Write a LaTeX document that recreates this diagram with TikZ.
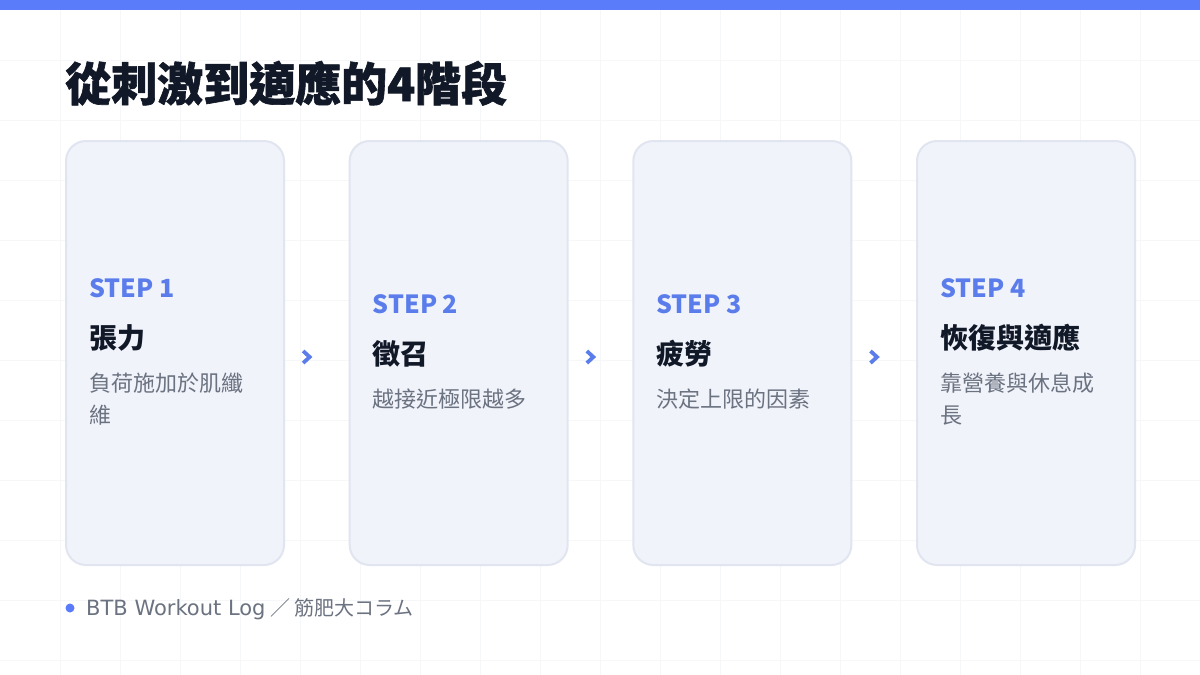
\documentclass[tikz,border=0pt]{standalone}
\usepackage{fontspec}
\setmainfont{Noto Sans CJK TC}
\newfontfamily\heavyfont{Noto Sans CJK TC}[BoldFeatures={FakeBold=1.3}]
\newfontfamily\latinfont{DejaVu Sans}
\usetikzlibrary{positioning,calc}

\definecolor{barblue}{HTML}{5B7CFA}
\definecolor{stepblue}{HTML}{5A7DEB}
\definecolor{inkdark}{HTML}{111827}
\definecolor{inkgray}{HTML}{6B7280}
\definecolor{cardfill}{HTML}{F1F3FB}
\definecolor{cardline}{HTML}{E1E5F0}
\definecolor{gridgray}{HTML}{F6F7F9}

\tikzset{
	card/.style={draw=cardline, fill=cardfill, line width=2pt, rounded corners=20pt,
		minimum width=218pt, minimum height=424pt, inner sep=0pt},
	steplabel/.style={anchor=base west, inner sep=0pt, text=stepblue, font=\bfseries\fontsize{25}{25}\selectfont},
	stagetitle/.style={anchor=base west, inner sep=0pt, text=inkdark, font=\bfseries\fontsize{28}{28}\selectfont},
	stagedesc/.style={anchor=base west, inner sep=0pt, text=inkgray, font=\fontsize{22}{22}\selectfont},
	chevron/.style={draw=stepblue, line width=3.8pt, line join=miter},
	gridline/.style={draw=gridgray, line width=0.8pt}
}

\begin{document}
\begin{tikzpicture}[x=1pt, y=-1pt]
	\useasboundingbox (0,0) rectangle (1200,675);
	\fill[white] (0,0) rectangle (1200,675);
	% faint grid
	\foreach \gx in {60,120,...,1140}
		\draw[gridline] (\gx,10) -- (\gx,675);
	\foreach \gy in {60,120,...,660}
		\draw[gridline] (0,\gy) -- (1200,\gy);
	\fill[barblue] (0,0) rectangle (1200,10);

	\node [anchor=base west, inner sep=0pt, text=inkdark, font=\heavyfont\bfseries\fontsize{46}{46}\selectfont] (headline) at (65,101) {從刺激到適應的4階段};

	\foreach \i in {1,...,4}
		\node [card] (card\i) at ({175+283.67*(\i-1)},353) {};

	% stage 1
	\node [steplabel] (step1) at ($(card1.west)+(24,-55.5)$) {STEP 1};
	\node [stagetitle] (title1) at ($(step1.base west)+(0,51)$) {張力};
	\node [stagedesc] (desc1a) at ($(title1.base west)+(0,43)$) {負荷施加於肌纖};
	\node [stagedesc] (desc1b) at ($(desc1a.base west)+(0,32)$) {維};

	% stage 2
	\node [steplabel] (step2) at ($(card2.west)+(24,-39.5)$) {STEP 2};
	\node [stagetitle] (title2) at ($(step2.base west)+(0,51)$) {徵召};
	\node [stagedesc] (desc2a) at ($(title2.base west)+(0,43)$) {越接近極限越多};

	% stage 3
	\node [steplabel] (step3) at ($(card3.west)+(24,-39.5)$) {STEP 3};
	\node [stagetitle] (title3) at ($(step3.base west)+(0,51)$) {疲勞};
	\node [stagedesc] (desc3a) at ($(title3.base west)+(0,43)$) {決定上限的因素};

	% stage 4
	\node [steplabel] (step4) at ($(card4.west)+(24,-55.5)$) {STEP 4};
	\node [stagetitle] (title4) at ($(step4.base west)+(0,51)$) {恢復與適應};
	\node [stagedesc] (desc4a) at ($(title4.base west)+(0,43)$) {靠營養與休息成};
	\node [stagedesc] (desc4b) at ($(desc4a.base west)+(0,32)$) {長};

	% chevrons between cards
	\foreach \a/\b in {1/2,2/3,3/4} {
		\coordinate (arr\a\b) at ($(card\a.east)!0.34!(card\b.west)+(0,4)$);
		\draw [chevron] ($(arr\a\b)+(-3.5,-6)$) -- ($(arr\a\b)+(3,0)$) -- ($(arr\a\b)+(-3.5,6)$);
	}

	% footer
	\node [circle, fill=barblue, inner sep=0pt, minimum size=9pt] (bullet) at (70,608) {};
	\node [anchor=base west, inner sep=0pt, text=inkgray, font=\fontsize{20}{20}\selectfont] (source) at ($(bullet.center)+(16,7)$) {{\latinfont\fontsize{21}{20}\selectfont BTB Workout Log} ／ 筋肥大コラム};
\end{tikzpicture}
\end{document}
